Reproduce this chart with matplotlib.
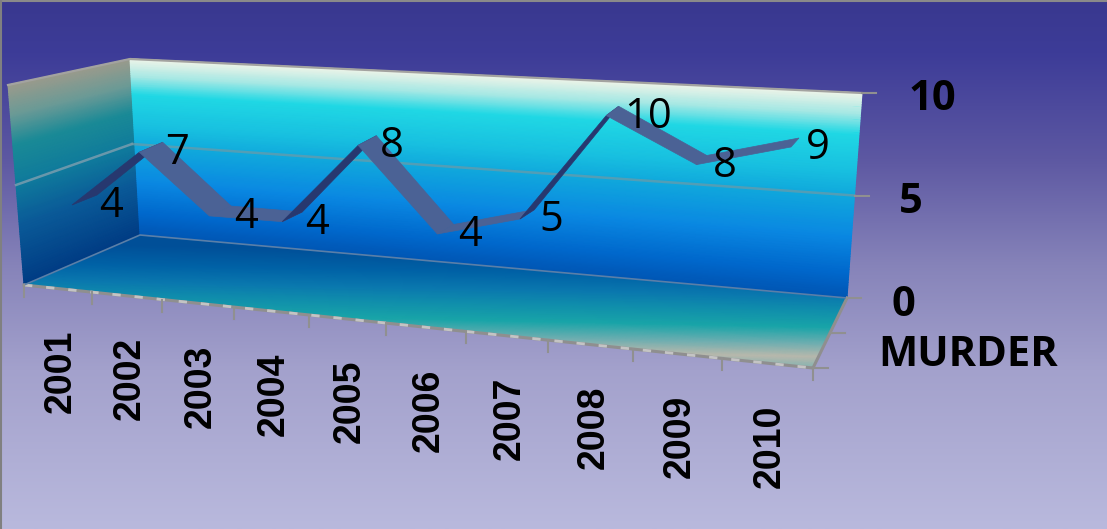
import numpy as np
import matplotlib
matplotlib.use('Agg')
import matplotlib.pyplot as plt
from matplotlib.colors import LinearSegmentedColormap
from matplotlib.patches import Polygon

years = ['2001', '2002', '2003', '2004', '2005', '2006', '2007', '2008', '2009', '2010']
murders = [4, 7, 4, 4, 8, 4, 5, 10, 8, 9]
value_ticks = [0, 5, 10]
series_name = 'MURDER'

W, H = 1107, 529

# chart box in picture pixels
wall_back = dict(tl=(130, 59), tr=(862, 93), bl=(140, 235), br=(847, 298))
wall_left = dict(tl=(8, 85), tr=(130, 59), bl=(24, 285), br=(140, 235))
floor = dict(tl=(140, 235), tr=(847, 298), bl=(24, 285), br=(813, 368))

# plane of the ribbon: (i=first, i=last) x (value 0, value 10)
front_plane = dict(bl=(72, 281), br=(791, 354), tl=(72, 91), tr=(791, 124))
back_plane = dict(bl=(97, 271), br=(799, 345), tl=(97, 81), tr=(799, 115))

bg_cmap = LinearSegmentedColormap.from_list('bg', [
    (0, '#39388f'), (0.1, '#3d3c98'), (0.3, '#5d58a2'), (0.5, '#8683b9'),
    (0.7, '#a3a1cc'), (1, '#b9b9dd')])
back_cmap = LinearSegmentedColormap.from_list('back', [
    (0, '#0056b4'), (0.12, '#0068cc'), (0.3, '#0a88e2'), (0.5, '#10a8dc'),
    (0.62, '#18c0e0'), (0.8, '#20d8e4'), (0.9, '#a4e8e4'), (1, '#eef4e8')])
left_cmap = LinearSegmentedColormap.from_list('left', [
    (0, '#003c84'), (0.3, '#0a5a98'), (0.5, '#0f7a9c'), (0.7, '#1a8a96'),
    (0.85, '#6a9a96'), (1, '#9a9a8c')])

# floor colours go by height in the picture, almost level
floor_y0, floor_y1 = 235, 372
floor_stops = [(250, '#004f98'), (270, '#0062a6'), (287, '#0a78ae'), (300, '#0f8cac'),
               (318, '#18a4a8'), (335, '#70aeb0'), (348, '#b8b8ac'), (358, '#8cb4b0'),
               (372, '#4cb0b0')]
floor_cmap = LinearSegmentedColormap.from_list('floor', [
    (0, floor_stops[0][1])] + [((y - floor_y0) / (floor_y1 - floor_y0), c) for y, c in floor_stops])


def warp(t, k):
    return t / (t + k * (1 - t))


def lerp(a, b, t):
    return np.asarray(a, float) + (np.asarray(b, float) - np.asarray(a, float)) * t


def on_plane(plane, i, v):
    t = warp(i / (len(years) - 1), 1.21)
    low = lerp(plane['bl'], plane['br'], t)
    high = lerp(plane['tl'], plane['tr'], t)
    return lerp(low, high, v / max(value_ticks))


def front_edge(u):
    t = warp(u / len(years), 1.18)
    return lerp(floor['bl'], floor['br'], t)


def shade_quad(ax, quad, cmap, z):
    s = np.linspace(0, 1, 80)
    left = np.array([lerp(quad['bl'], quad['tl'], a) for a in s])
    right = np.array([lerp(quad['br'], quad['tr'], a) for a in s])
    X = np.column_stack([left[:, 0], right[:, 0]])
    Y = np.column_stack([left[:, 1], right[:, 1]])
    C = np.column_stack([s, s])
    ax.pcolormesh(X, Y, C, cmap=cmap, shading='gouraud', zorder=z, vmin=0, vmax=1)


def shade_floor(ax, quad, cmap, z):
    s, r = np.meshgrid(np.linspace(0, 1, 120), np.linspace(0, 1, 120))
    s, r = s[..., None], r[..., None]
    left = np.asarray(quad['bl'], float) * (1 - r) + np.asarray(quad['tl'], float) * r
    right = np.asarray(quad['br'], float) * (1 - r) + np.asarray(quad['tr'], float) * r
    P = left * (1 - s) + right * s
    X, Y = P[..., 0], P[..., 1]
    C = (Y - 0.02 * (X - 400) - floor_y0) / (floor_y1 - floor_y0)
    ax.pcolormesh(X, Y, np.clip(C, 0, 1), cmap=cmap, shading='gouraud', zorder=z, vmin=0, vmax=1)


fig = plt.figure(figsize=(W / 100, H / 100), dpi=100)
ax = fig.add_axes([0, 0, 1, 1])
ax.set_xlim(0, W)
ax.set_ylim(H, 0)
ax.axis('off')

ax.imshow(np.linspace(0, 1, 256)[:, None], cmap=bg_cmap, extent=(0, W, H, 0),
          aspect='auto', zorder=0, vmin=0, vmax=1)
ax.plot([0, W], [0.5, 0.5], color='#8a8a8a', lw=1.5, zorder=1)
ax.plot([0.5, 0.5], [0, H], color='#808080', lw=1.5, zorder=1)

shade_floor(ax, floor, floor_cmap, 2)
shade_quad(ax, wall_left, left_cmap, 2)
shade_quad(ax, wall_back, back_cmap, 2)

edge = '#a3a3a0'
# gridline at the middle value, over both walls
mid = value_ticks[1] / max(value_ticks)
grid_left = lerp(wall_left['bl'], wall_left['tl'], mid)
grid_corner = lerp(wall_back['bl'], wall_back['tl'], mid)
grid_right = lerp(wall_back['br'], wall_back['tr'], mid)
ax.plot([grid_left[0], grid_corner[0] - 3], [grid_left[1], grid_corner[1] - 3], color='#7f9fb0', lw=1.8, alpha=0.8, zorder=3)
ax.plot([grid_corner[0] - 3, grid_right[0]], [grid_corner[1] - 3, grid_right[1]], color='#6f9aa6', lw=1.8, alpha=0.7, zorder=3)

# box edges
ax.plot(*zip(wall_left['tl'], wall_left['tr'], wall_back['tr']), color=edge, lw=1.6, zorder=3)
ax.plot(*zip(wall_left['bl'], floor['br'], wall_back['br']), color='#8f8f8f', lw=2.2, zorder=3)
ax.plot(*zip(wall_left['bl'], floor['br']), color='#c4c4c4', lw=2, zorder=3, ls=(0, (3, 5)))
ax.plot(*zip(wall_left['bl'], wall_left['br'], wall_back['br']), color='#5a7fa8', lw=1.2, zorder=3)

# value axis ticks and labels
for v in value_ticks:
    p = lerp(wall_back['br'], wall_back['tr'], v / max(value_ticks))
    ax.plot([p[0], p[0] + 14], [p[1], p[1]], color='#909090', lw=1.5, zorder=3)
    ax.text(p[0] + 56 + 14 * (len(str(v)) > 1), p[1] + 7, str(v), fontsize=30, fontweight='bold',
            family='Open Sans', ha='center', va='center', color='black', zorder=6)

# depth ticks on the right edge
for frac in (0.5, 1.0):
    p = lerp(floor['br'], floor['tr'], 1 - frac)
    ax.plot([p[0], p[0] + 15], [p[1], p[1]], color='#909090', lw=1.5, zorder=3)
ax.text(968, 355, series_name, fontsize=30, fontweight='bold', family='Open Sans',
        ha='center', va='center', color='black', zorder=6)

# category ticks and labels
for u in range(len(years) + 1):
    p = front_edge(u)
    ax.plot([p[0], p[0]], [p[1], p[1] + 12], color='#909090', lw=1.5, zorder=3)
for u, year in enumerate(years):
    p = front_edge(u + 0.5)
    ax.text(p[0] + 3, p[1] + 41, year, rotation=90, fontsize=27, fontweight='bold',
            family='Liberation Sans', ha='center', va='top', color='black', zorder=6)

# ribbon
for i in range(len(murders) - 1):
    f0 = on_plane(front_plane, i, murders[i])
    f1 = on_plane(front_plane, i + 1, murders[i + 1])
    b0 = on_plane(back_plane, i, murders[i])
    b1 = on_plane(back_plane, i + 1, murders[i + 1])
    seg = f1 - f0
    off = b0 - f0
    underside = seg[0] * off[1] - seg[1] * off[0] > 0
    ax.add_patch(Polygon([f0, f1, b1, b0], closed=True, lw=0.5, zorder=4,
                         facecolor='#27386f' if underside else '#4b6295',
                         edgecolor='#27386f' if underside else '#4b6295'))

# data labels
for i, val in enumerate(murders):
    p = on_plane(front_plane, i, val)
    ax.text(p[0] + 27 - 1.3 * i, p[1] + 1, str(val), fontsize=30, family='Open Sans',
            ha='left', va='center', color='black', zorder=6)

fig.savefig('out.png', dpi=100)
